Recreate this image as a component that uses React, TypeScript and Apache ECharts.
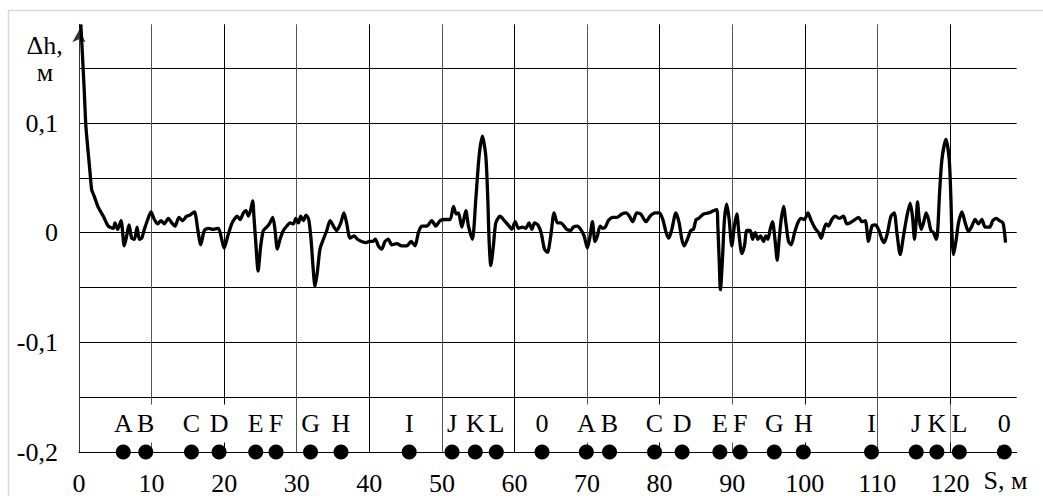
import React, { useEffect, useRef } from 'react';
import * as echarts from 'echarts';

// S, m
const distance = [
  0.25, 0.46, 0.74, 0.92, 1.1, 1.52, 1.75, 2.05, 2.66, 3.35, 4.04, 4.73, 4.96, 5.33, 5.79, 6.24, 6.57, 6.89, 7.26, 7.63,
  8.0, 8.31, 8.64, 9.0, 9.47, 9.92, 10.38, 10.85, 11.3, 11.76, 12.3, 12.78, 13.23, 13.78, 14.24, 14.84, 15.3, 15.9, 16.36, 16.77,
  17.27, 17.82, 18.5, 19.2, 19.66, 20.0, 20.5, 21.04, 21.27, 21.8, 22.2, 22.65, 23.0, 23.33, 23.66, 23.93, 24.1, 24.39, 24.67, 25.04,
  25.4, 25.87, 26.23, 26.7, 27.0, 27.33, 27.7, 28.16, 28.63, 29.08, 29.54, 29.87, 30.23, 30.55, 30.91, 31.28, 31.65, 31.97, 32.3, 32.52,
  32.84, 33.2, 33.67, 34.14, 34.6, 35.05, 35.5, 36.07, 36.5, 36.9, 37.35, 37.9, 38.36, 38.96, 39.56, 40.0, 40.47, 40.83, 41.25, 41.7,
  42.17, 42.62, 43.09, 43.78, 44.47, 45.16, 45.76, 46.3, 46.76, 47.23, 47.92, 48.6, 49.16, 49.75, 50.44, 51.13, 51.6, 51.96, 52.27, 52.75,
  53.3, 53.66, 54.2, 54.67, 55.13, 55.58, 56.05, 56.33, 56.5, 56.74, 57.1, 57.43, 58.02, 58.6, 59.26, 59.63, 60.1, 60.55, 61.1, 61.56,
  62.0, 62.4, 62.76, 63.23, 63.67, 64.13, 64.54, 65.0, 65.46, 65.92, 66.38, 66.84, 67.2, 67.76, 68.1, 68.66, 69.13, 69.6, 70.05, 70.42,
  70.74, 71.1, 71.43, 71.8, 72.17, 72.5, 72.94, 73.55, 74.1, 74.8, 75.38, 75.84, 76.3, 76.85, 77.4, 78.13, 78.68, 79.38, 79.97, 80.44,
  80.9, 81.27, 81.68, 82.24, 82.69, 83.06, 83.38, 83.83, 84.3, 84.66, 85.03, 85.4, 86.04, 86.73, 87.42, 87.88, 88.02, 88.2, 88.38, 88.66,
  88.93, 89.26, 89.58, 89.95, 90.3, 90.64, 90.96, 91.33, 91.69, 92.02, 92.48, 92.8, 93.17, 93.54, 93.9, 94.31, 94.64, 94.92, 95.23, 95.55,
  95.92, 96.2, 96.47, 96.75, 97.07, 97.4, 97.76, 98.13, 98.59, 99.05, 99.5, 99.96, 100.43, 100.88, 101.43, 101.9, 102.27, 102.58, 102.95, 103.27,
  103.73, 104.19, 104.74, 105.33, 105.8, 106.26, 106.72, 107.4, 107.87, 108.33, 108.78, 109.25, 109.7, 110.16, 110.63, 110.94, 111.4, 111.87, 112.32, 112.69,
  113.15, 113.6, 114.07, 114.53, 114.84, 115.12, 115.36, 115.53, 115.77, 116.04, 116.36, 116.73, 117.05, 117.38, 117.74, 118.11, 118.3, 118.57, 118.9, 119.45,
  119.9, 120.14, 120.27, 120.5, 120.87, 121.18, 121.65, 122.1, 122.56, 123.02, 123.48, 123.94, 124.4, 124.86, 125.46, 125.92, 126.37, 126.83, 127.3, 127.52,
  127.66,
];

// Δh, m
const deltaH = [
  0.19, 0.164, 0.127, 0.1, 0.085, 0.055, 0.039, 0.034, 0.023, 0.015, 0.006, 0.004, 0.009, 0.003, 0.011, -0.012, -0.003, 0.007, -0.005, -0.006,
  0.005, -0.006, -0.005, 0.003, 0.012, 0.019, 0.012, 0.008, 0.011, 0.008, 0.013, 0.009, 0.006, 0.014, 0.011, 0.015, 0.016, 0.019, 0.003, -0.011,
  0.002, 0.004, 0.003, 0.004, -0.006, -0.014, -0.003, 0.008, 0.011, 0.015, 0.012, 0.018, 0.02, 0.015, 0.021, 0.029, 0.015, -0.012, -0.035, -0.012,
  0.002, 0.005, 0.008, 0.014, 0.003, -0.015, -0.006, 0.002, 0.006, 0.009, 0.008, 0.013, 0.009, 0.015, 0.011, 0.016, 0.012, -0.006, -0.036, -0.049,
  -0.036, -0.015, -0.006, 0.002, 0.011, 0.006, 0.002, 0.009, 0.018, 0.008, -0.005, -0.003, -0.006, -0.008, -0.009, -0.008, -0.008, -0.006, -0.012, -0.015,
  -0.008, -0.006, -0.011, -0.01, -0.012, -0.012, -0.008, -0.012, 0.0, 0.006, 0.006, 0.011, 0.006, 0.011, 0.012, 0.012, 0.024, 0.017, 0.018, 0.005,
  0.02, 0.006, -0.006, 0.03, 0.07, 0.088, 0.07, 0.03, -0.006, -0.03, -0.012, 0.009, 0.015, 0.011, 0.006, 0.003, 0.01, 0.004, 0.005, 0.004,
  0.009, 0.003, 0.009, 0.007, 0.0, -0.015, -0.018, -0.003, 0.018, 0.009, 0.009, 0.006, 0.003, 0.002, 0.005, 0.006, 0.003, -0.003, -0.014, -0.003,
  0.01, -0.008, -0.003, 0.006, 0.004, 0.005, 0.011, 0.014, 0.014, 0.017, 0.018, 0.015, 0.01, 0.018, 0.017, 0.01, 0.015, 0.018, 0.018, 0.012,
  0.0, -0.005, 0.003, 0.018, 0.009, -0.006, -0.012, -0.006, 0.002, 0.003, 0.012, 0.013, 0.017, 0.018, 0.02, 0.021, 0.006, -0.024, -0.052, -0.024,
  0.012, 0.026, 0.012, -0.012, 0.006, 0.017, -0.003, -0.019, -0.012, 0.002, 0.002, -0.006, 0.0, -0.006, -0.003, -0.008, -0.003, -0.006, 0.003, 0.01,
  -0.008, -0.025, -0.006, 0.012, 0.024, 0.009, -0.008, -0.011, 0.0, 0.009, 0.013, 0.012, 0.018, 0.011, 0.004, 0.0, -0.005, 0.002, 0.008, 0.006,
  0.012, 0.015, 0.013, 0.015, 0.008, 0.009, 0.011, 0.014, 0.01, 0.011, -0.008, 0.006, 0.007, 0.003, -0.006, -0.009, 0.0, 0.015, 0.018, 0.0,
  -0.02, -0.003, 0.015, 0.027, 0.015, -0.006, 0.012, 0.028, 0.012, 0.003, 0.009, 0.018, 0.012, 0.002, 0.0, -0.006, 0.0, 0.036, 0.067, 0.085,
  0.067, 0.03, 0.0, -0.02, -0.006, 0.009, 0.019, 0.009, 0.001, 0.006, 0.012, 0.008, 0.012, 0.005, 0.005, 0.011, 0.013, 0.011, 0.009, 0.0,
  -0.009,
];

const stationNames = [
  'A', 'B', 'C', 'D', 'E', 'F', 'G', 'H', 'I', 'J', 'K', 'L', '0',
  'A', 'B', 'C', 'D', 'E', 'F', 'G', 'H', 'I', 'J', 'K', 'L', '0',
];
const stationPos = [
  6.1, 9.2, 15.5, 19.3, 24.35, 27.15, 31.9, 36.1, 45.5, 51.4, 54.6, 57.5, 63.8,
  69.9, 73.1, 79.3, 83.1, 88.3, 91.1, 95.8, 99.8, 109.2, 115.35, 118.2, 121.3, 127.5,
];

const xTickLabels = ['0', '10', '20', '30', '40', '50', '60', '70', '80', '90', '100', '110', '120'];
const yTickValues = [0.1, 0, -0.1, -0.2];
const yTickLabels = ['0,1', '0', '-0,1', '-0,2'];

const FONT = 'Liberation Serif';

export default function App() {
  const ref = useRef<HTMLDivElement>(null);

  useEffect(() => {
    document.body.style.margin = '0';
    if (!ref.current) return;
    const chart = echarts.init(ref.current, undefined, { renderer: 'svg' });
    const lineData = distance.map((s, i) => [s, deltaH[i]]);
    const stationData = stationPos.map((p, i) => ({ value: [p, -0.2], name: stationNames[i] }));

    chart.setOption({
      animation: false,
      backgroundColor: '#fff',
      textStyle: { fontFamily: FONT },
      grid: { left: 79, right: 26.3, top: 24.3, bottom: 42.7, containLabel: false },
      xAxis: {
        type: 'value',
        min: 0,
        max: 129.2,
        interval: 10,
        axisLine: {
          show: true,
          onZero: false,
          symbol: ['none', 'arrow'],
          symbolSize: [10, 12],
          symbolOffset: [0, -6],
          lineStyle: { color: '#000', width: 1 },
        },
        axisTick: { show: false },
        axisLabel: {
          margin: 18,
          fontFamily: FONT,
          fontSize: 26,
          color: '#000',
          showMaxLabel: false,
          formatter: (v: number) => {
            const i = Math.round(v / 10);
            return Math.abs(v - i * 10) < 1e-6 && i < xTickLabels.length ? xTickLabels[i] : '';
          },
        },
        splitLine: {
          show: true,
          showMinLine: false,
          showMaxLine: false,
          lineStyle: { color: ['#555', '#000'], width: 1 },
        },
      },
      yAxis: {
        type: 'value',
        min: -0.2,
        max: 0.19,
        interval: 0.05,
        axisLine: {
          show: true,
          onZero: false,
          symbol: ['none', 'arrow'],
          symbolSize: [10, 12],
          symbolOffset: [0, -6],
          lineStyle: { color: '#333', width: 1 },
        },
        axisTick: { show: false },
        axisLabel: {
          margin: 21,
          fontFamily: FONT,
          fontSize: 26,
          color: '#000',
          showMaxLabel: false,
          formatter: (v: number) => {
            const i = yTickValues.findIndex((t) => Math.abs(t - v) < 1e-6);
            return i >= 0 ? yTickLabels[i] : '';
          },
        },
        splitLine: {
          show: true,
          showMaxLine: false,
          lineStyle: { color: '#000', width: 1 },
        },
      },
      graphic: [
        {
          type: 'rect',
          shape: { x: 8.5, y: 10.5, width: 1200, height: 700 },
          style: { fill: 'none', stroke: '#d9d9d9', lineWidth: 1.5 },
          silent: true,
          z: -10,
        },
        {
          type: 'text',
          x: 26.5,
          y: 45,
          style: { text: 'Δh,', fontFamily: FONT, fontSize: 26, lineHeight: 22, fill: '#000', align: 'left', verticalAlign: 'middle' },
        },
        {
          type: 'text',
          x: 45,
          y: 72,
          style: { text: 'м', fontFamily: FONT, fontSize: 26, lineHeight: 22, fill: '#000', align: 'center', verticalAlign: 'middle' },
        },
        {
          type: 'text',
          x: 983.5,
          y: 480,
          style: { text: 'S, м', fontFamily: FONT, fontSize: 26, fill: '#000', align: 'left', verticalAlign: 'middle' },
        },
      ],
      series: [
        {
          type: 'line',
          data: lineData,
          smooth: 0.25,
          showSymbol: false,
          symbol: 'none',
          lineStyle: { color: '#000', width: 3.3 },
          z: 3,
        },
        {
          type: 'scatter',
          data: stationData,
          symbol: 'circle',
          symbolSize: 15,
          clip: false,
          itemStyle: { color: '#000', opacity: 1 },
          label: {
            show: true,
            position: 'top',
            distance: 2,
            formatter: '{b}',
            fontFamily: FONT,
            fontSize: 26,
            lineHeight: 24,
            color: '#000',
            backgroundColor: '#fff',
            padding: [7, 1],
          },
          z: 4,
        },
      ],
    });

    return () => chart.dispose();
  }, []);

  return <div ref={ref} style={{ width: 1043, height: 496 }} />;
}
